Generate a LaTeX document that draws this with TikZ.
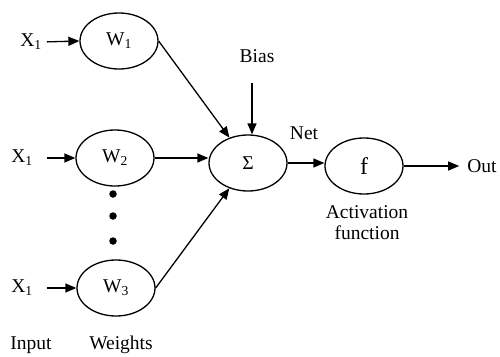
\documentclass[tikz,border=0pt]{standalone}
\usepackage{fontspec}
\setmainfont{Liberation Serif}
\usetikzlibrary{shapes.geometric,arrows.meta}
\begin{document}
\begin{tikzpicture}[x=1pt,y=-1pt,
  every node/.style={font=\fontsize{19.5}{21}\selectfont},
  neuron/.style={draw,line width=1.3pt,ellipse,minimum width=78pt,minimum height=56pt,inner sep=0pt},
  arr/.style={line width=1.3pt,-{Triangle[length=11pt,width=9pt]}},
  lbl/.style={inner sep=0pt},
  dot/.style={circle,fill=black,inner sep=0pt,minimum size=7.5pt}]
\useasboundingbox (0,0) rectangle (500,356);
% weights
\node[neuron] (w1) at (119,41) {W\textsubscript{1}};
\node[neuron] (w2) at (115,158) {W\textsubscript{2}};
\node[neuron] (w3) at (116,288) {W\textsubscript{3}};
% inputs
\node[lbl] (x1) at (31,42) {X\textsubscript{1}};
\node[lbl] (x2) at (22,158) {X\textsubscript{1}};
\node[lbl] (x3) at (22,288) {X\textsubscript{1}};
\draw[arr,shorten <=5pt] (x1.east) -- (w1.west);
\draw[arr,shorten <=14pt] (x2.east) -- (w2.west);
\draw[arr,shorten <=14pt] (x3.east) -- (w3.west);
% dots
\node[dot] (d1) at (113,194) {};
\node[dot] (d2) at (113,216) {};
\node[dot] (d3) at (113,241) {};
% sum and activation
\node[neuron] (sig) at (248,163) {Σ};
\node[neuron,font=\fontsize{24}{26}\selectfont] (f) at (364,166) {f};
\draw[arr] (w1.east) -- (sig);
\draw[arr] (w2.east) -- (sig.west |- w2.east);
\draw[arr] (w3.east) -- (sig);
\node[lbl] (bias) at (257,56) {Bias};
\coordinate (bstart) at (252,83);
\draw[arr] (bstart) -- (bstart |- sig.north);
\node[lbl] (net) at (304,133) {Net};
\draw[arr] (sig.east) -- (f.west |- sig.east);
\node[lbl] (out) at (482,166) {Out};
\draw[arr,shorten >=8pt] (f.east) -- (out.west);
\node[lbl,align=center] (act) at (367,223) {Activation\\function};
% bottom labels
\node[lbl] (inp) at (31,345) {Input};
\node[lbl] (wts) at (121,345) {Weights};
\end{tikzpicture}
\end{document}
